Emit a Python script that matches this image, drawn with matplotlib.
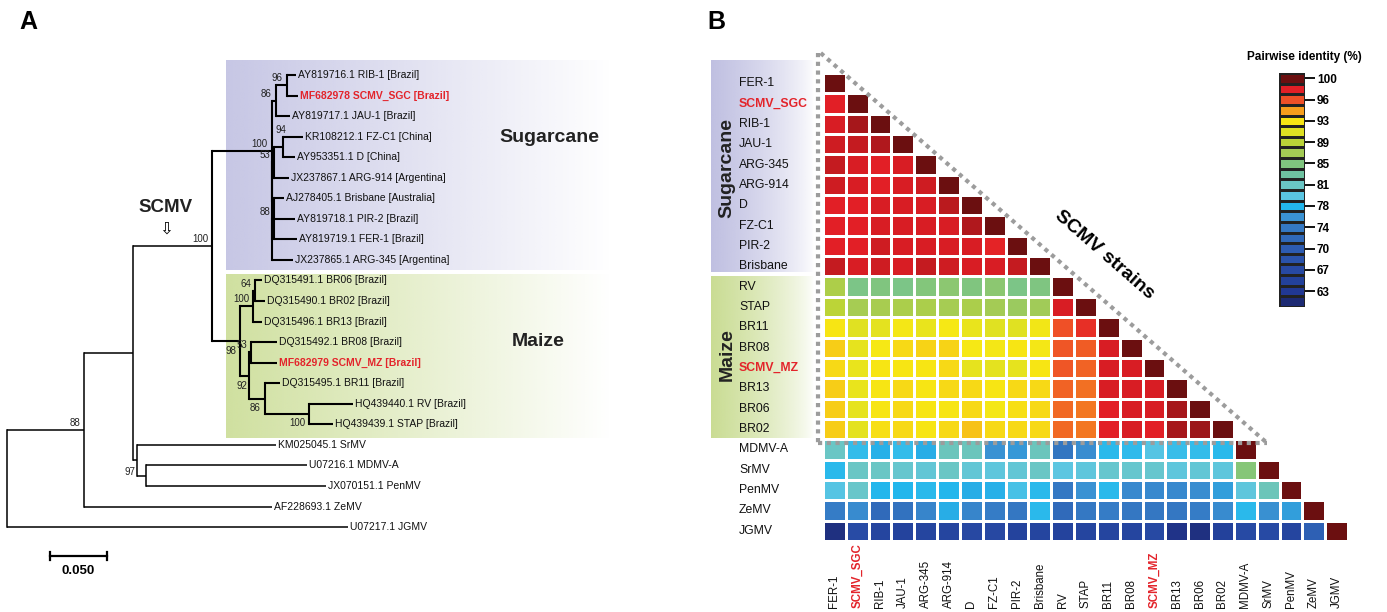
import numpy as np
import matplotlib
matplotlib.use("Agg")
from matplotlib import pyplot as plt
from matplotlib.colors import LinearSegmentedColormap, Normalize, to_rgb

plt.rcParams['font.family'] = ['Liberation Sans', 'DejaVu Sans']

# ---------------- panel A: ML tree (name, parent, branch length, bootstrap)
tree_nodes = [
    ("root", None, 0.0, None),
    ("N1", "root", 0.0675, 88),
    ("SCMV+", "N1", 0.043, None),
    ("SCMV", "SCMV+", 0.0693, 100),
    ("Sug", "SCMV", 0.0526, 100),
    ("S86", "Sug", 0.0035, 86),
    ("S96", "S86", 0.0096, 96),
    ("AY819716.1 RIB-1 [Brazil]", "S96", 0.0079, None),
    ("MF682978 SCMV_SGC [Brazil]", "S96", 0.0096, None),
    ("AY819717.1 JAU-1 [Brazil]", "S86", 0.0123, None),
    ("X1", "Sug", 0.0, None),
    ("S53", "X1", 0.0018, 53),
    ("S94", "S53", 0.0079, 94),
    ("KR108212.1 FZ-C1 [China]", "S94", 0.0175, None),
    ("AY953351.1 D [China]", "S94", 0.0105, None),
    ("JX237867.1 ARG-914 [Argentina]", "S53", 0.0132, None),
    ("X2", "X1", 0.0, None),
    ("S88", "X2", 0.0018, 88),
    ("AJ278405.1 Brisbane [Australia]", "S88", 0.0088, None),
    ("AY819718.1 PIR-2 [Brazil]", "S88", 0.0184, None),
    ("AY819719.1 FER-1 [Brazil]", "S88", 0.0202, None),
    ("JX237865.1 ARG-345 [Argentina]", "X2", 0.0184, None),
    ("Mz", "SCMV", 0.0246, 98),
    ("M100", "Mz", 0.0114, 100),
    ("M64", "M100", 0.0018, 64),
    ("DQ315491.1 BR06 [Brazil]", "M64", 0.0061, None),
    ("DQ315490.1 BR02 [Brazil]", "M64", 0.0088, None),
    ("DQ315496.1 BR13 [Brazil]", "M100", 0.0079, None),
    ("M92", "Mz", 0.0079, 92),
    ("M53", "M92", 0.0018, 53),
    ("DQ315492.1 BR08 [Brazil]", "M53", 0.0228, None),
    ("MF682979 SCMV_MZ [Brazil]", "M53", 0.0228, None),
    ("M86", "M92", 0.014, 86),
    ("DQ315495.1 BR11 [Brazil]", "M86", 0.0132, None),
    ("M100b", "M86", 0.0386, 100),
    ("HQ439440.1 RV [Brazil]", "M100b", 0.0386, None),
    ("HQ439439.1 STAP [Brazil]", "M100b", 0.0211, None),
    ("Oth", "SCMV+", 0.0035, None),
    ("KM025045.1 SrMV", "Oth", 0.122, None),
    ("O97", "Oth", 0.0079, 97),
    ("U07216.1 MDMV-A", "O97", 0.141, None),
    ("JX070151.1 PenMV", "O97", 0.158, None),
    ("AF228693.1 ZeMV", "N1", 0.165, None),
    ("U07217.1 JGMV", "root", 0.299, None),
]
tree_highlight = ["MF682978 SCMV_SGC [Brazil]", "MF682979 SCMV_MZ [Brazil]"]
scale_length = 0.05

# ---------------- panel B: pairwise identity (lower triangle, %)
strains = ["FER-1", "SCMV_SGC", "RIB-1", "JAU-1", "ARG-345", "ARG-914", "D",
           "FZ-C1", "PIR-2", "Brisbane", "RV", "STAP", "BR11", "BR08",
           "SCMV_MZ", "BR13", "BR06", "BR02", "MDMV-A", "SrMV", "PenMV",
           "ZeMV", "JGMV"]
strain_highlight = ["SCMV_SGC", "SCMV_MZ"]
identity_rows = [
    [100],
    [98.1, 100],
    [98.2, 99.0, 100],
    [98.4, 98.5, 98.9, 100],
    [98.5, 98.3, 98.1, 98.3, 100],
    [98.4, 98.3, 98.1, 98.3, 98.4, 100],
    [98.1, 98.1, 98.2, 98.3, 98.3, 98.7, 100],
    [98.1, 98.1, 98.3, 98.3, 98.2, 98.2, 98.8, 100],
    [98.1, 98.1, 98.4, 98.3, 98.2, 98.3, 98.2, 98.0, 100],
    [98.5, 98.2, 98.4, 98.3, 98.5, 98.4, 98.3, 98.2, 98.5, 100],
    [87.8, 84.8, 85.2, 84.8, 85.4, 85.8, 85.2, 85.8, 84.8, 85.0, 100],
    [89.0, 87.2, 87.4, 87.7, 87.7, 87.2, 87.7, 87.0, 86.6, 86.8, 98.2, 100],
    [92.6, 91.0, 91.2, 92.3, 91.6, 92.5, 91.6, 91.0, 91.0, 92.2, 96.3, 97.5, 100],
    [93.3, 91.5, 92.5, 93.0, 93.1, 93.1, 92.5, 92.4, 92.6, 92.4, 96.1, 96.0,
     98.2, 100],
    [93.0, 91.6, 92.6, 92.6, 92.6, 93.0, 91.5, 91.2, 91.5, 92.6, 96.2, 95.8,
     98.2, 98.2, 100],
    [93.3, 91.6, 92.6, 93.0, 92.6, 93.0, 93.0, 92.6, 93.0, 93.0, 95.8, 95.5,
     98.2, 98.2, 98.2, 100],
    [93.3, 91.5, 92.7, 93.0, 92.6, 92.6, 93.0, 92.3, 92.8, 93.0, 95.6, 95.3,
     98.1, 98.2, 98.2, 99.0, 100],
    [93.3, 91.3, 92.8, 93.0, 92.6, 93.0, 93.6, 93.0, 93.0, 93.0, 95.6, 95.3,
     98.1, 98.2, 98.1, 99.0, 99.2, 100],
    [81.5, 78.3, 77.5, 78.3, 77.3, 82.0, 82.0, 76.0, 76.3, 82.0, 73.8, 75.6,
     78.0, 78.2, 79.5, 78.5, 78.3, 78.0, 100],
    [78.0, 81.5, 81.5, 81.0, 80.5, 81.5, 80.5, 80.0, 80.5, 81.5, 79.8, 80.0,
     81.0, 81.0, 81.0, 80.0, 80.5, 80.0, 85.5, 100],
    [79.5, 81.2, 77.8, 77.8, 78.0, 77.8, 77.3, 77.5, 79.0, 78.0, 74.2, 76.0,
     78.0, 75.3, 75.3, 75.3, 75.6, 76.5, 80.0, 82.2, 100],
    [74.5, 75.5, 72.5, 73.3, 75.0, 77.3, 75.0, 74.5, 74.0, 78.0, 72.5, 74.2,
     74.5, 74.0, 74.0, 74.0, 74.5, 75.5, 78.0, 75.8, 76.5, 100],
    [62.0, 67.2, 66.0, 65.5, 66.0, 66.0, 66.5, 66.5, 65.5, 66.0, 65.5, 66.0,
     66.0, 66.0, 66.8, 62.5, 62.0, 65.0, 67.0, 67.0, 66.0, 71.0, 100],
]
cbar_ticks = [100, 96, 93, 89, 85, 81, 78, 74, 70, 67, 63]
cbar_colors = ["#6b0f10", "#e31f26", "#ef5127", "#f7a11c", "#f7e814",
               "#dce024", "#bad338", "#a4cb55", "#80c57f", "#6fc3a2",
               "#6ac6c6", "#5cc6e2", "#22b7ed", "#3a92d3", "#3478c3",
               "#3069b9", "#2d5db2", "#2a53ab", "#2749a3", "#23419b",
               "#213893", "#1d2a73"]
cbar_levels = np.linspace(100, 100 - 1.85 * 21, len(cbar_colors))

W, H = 1387, 612
RED = "#e3242b"
fig = plt.figure(figsize=(W / 100, H / 100), dpi=100)


def px_axes(x0, y0, x1, y1):
    ax = fig.add_axes([x0 / W, 1 - y1 / H, (x1 - x0) / W, (y1 - y0) / H])
    ax.set_axis_off()
    return ax


# background layer: shaded clade boxes and free text
bg = px_axes(0, 0, W, H)


def fade_box(x0, x1, y0, y1, color, a0, power=1.0):
    t = np.linspace(0, 1, 200)
    img = np.ones((2, 200, 4))
    img[..., :3] = to_rgb(color)
    img[..., 3] = a0 * (1 - t) ** power
    bg.imshow(img, extent=(x0, x1, y1, y0), aspect='auto',
              interpolation='bilinear')


fade_box(226, 612, 60, 270, "#b4b4dc", 0.75)
fade_box(226, 612, 274, 438, "#c0d680", 0.75)
fade_box(711, 814, 60, 272, "#b4b4dc", 0.85, 0.7)
fade_box(711, 814, 276, 438, "#c0d680", 0.85, 0.7)
bg.set_xlim(0, W)
bg.set_ylim(H, 0)

bg.text(28, 22, "A", fontsize=18, fontweight='bold', ha='center', va='center')
bg.text(716, 22, "B", fontsize=18, fontweight='bold', ha='center', va='center')
bg.text(549, 137, "Sugarcane", fontsize=14, fontweight='bold', ha='center', va='center', color='#222')
bg.text(538, 342, "Maize", fontsize=14, fontweight='bold', ha='center', va='center', color='#222')
bg.text(166, 207, "SCMV", fontsize=13.5, fontweight='bold', ha='center', va='center', color='#222')
bg.text(166, 229, "\u21e9", fontsize=12, ha='center', va='center', family='DejaVu Sans')
bg.text(727, 168, "Sugarcane", fontsize=14, fontweight='bold', rotation=90, ha='center', va='center', color='#222')
bg.text(727, 355, "Maize", fontsize=14, fontweight='bold', rotation=90, ha='center', va='center', color='#222')
bg.text(1304, 57, "Pairwise identity (%)", fontsize=8.5, fontweight='bold', ha='center', va='center')

# ---------------- tree
PX = 1140.0   # pixels per substitution unit
DY = 20.55    # pixels per leaf
tree = px_axes(0, 0, 640, H)

children, blen, support = {}, {}, {}
for name, par, bl, sup in tree_nodes:
    children.setdefault(name, [])
    blen[name] = bl
    support[name] = sup
    if par is not None:
        children.setdefault(par, []).append(name)

xpos, ypos = {}, {}
leaf_count = [0]


def layout(node, x):
    xpos[node] = x
    kids = children[node]
    if not kids:
        ypos[node] = leaf_count[0]
        leaf_count[0] += 1
        return
    for k in kids:
        layout(k, x + blen[k])
    ypos[node] = (ypos[kids[0]] + ypos[kids[-1]]) / 2


layout("root", 0.0)

thick = set()


def mark(node):
    thick.add(node)
    for k in children[node]:
        mark(k)


mark("SCMV")

nudge = {"Mz": (0, 17), "M92": (2, 17), "M86": (0, 16), "M100b": (0, 16),
         "O97": (-7, 3), "S94": (7, -10)}

for node, kids in children.items():
    if not kids:
        continue
    lw = 1.5 if node in thick else 1.1
    tree.plot([xpos[node]] * 2, [ypos[kids[0]], ypos[kids[-1]]], color='black',
              lw=lw, solid_capstyle='projecting')
    for k in kids:
        tree.plot([xpos[node], xpos[k]], [ypos[k]] * 2, color='black', lw=lw,
                  solid_capstyle='butt')
    if support[node] is not None:
        dx, dy = nudge.get(node, (0, 0))
        tree.text(xpos[node] + (dx - 4) / PX, ypos[node] + (dy - 7) / DY,
                  str(support[node]), ha='right', va='center', fontsize=7,
                  color='#222')
    for k in kids:
        if not children[k]:
            hl = k in tree_highlight
            tree.text(xpos[k] + 2 / PX, ypos[k], k, va='center', fontsize=7.5,
                      color=RED if hl else '#111',
                      fontweight='bold' if hl else 'normal')

# scale bar
sx0 = 43 / PX
sy = (556 - 75) / DY
tree.plot([sx0, sx0 + scale_length], [sy, sy], color='black', lw=1.6)
for xe in (sx0, sx0 + scale_length):
    tree.plot([xe, xe], [sy - 0.2, sy + 0.2], color='black', lw=1.6)
tree.text(sx0 + scale_length / 2, sy + 0.75, "%.3f" % scale_length,
          ha='center', va='center', fontsize=9.5, fontweight='bold')

tree.set_xlim(-7 / PX, 633 / PX)
tree.set_ylim((H - 75) / DY, -75 / DY)

# ---------------- heatmap
n = len(strains)
mat = np.full((n, n), np.nan)
for i, row in enumerate(identity_rows):
    mat[i, :len(row)] = row

cmap = LinearSegmentedColormap.from_list("pid", cbar_colors[::-1])
cmap.set_bad((1, 1, 1, 0))
norm = Normalize(vmin=cbar_levels[-1], vmax=cbar_levels[0])

hm = px_axes(823, 73, 1348, 541)
hm.pcolormesh(np.arange(n + 1), np.arange(n + 1), np.ma.masked_invalid(mat),
              cmap=cmap, norm=norm, edgecolors='white', linewidth=0.8)
hm.set_xlim(0, n)
hm.set_ylim(n, 0)

for i, s in enumerate(strains):
    hl = s in strain_highlight
    hm.text(-3.68, i + 0.5, s, ha='left', va='center', fontsize=8.8,
            color=RED if hl else '#111', fontweight='bold' if hl else 'normal')
    hm.text(i + 0.5, 26.3, s, rotation=90, ha='center', va='bottom',
            fontsize=8.3, color=RED if hl else '#111',
            fontweight='bold' if hl else 'normal')

dot = dict(color='#9c9c9c', lw=3.0, linestyle=(0, (1, 1.1)), clip_on=False,
           zorder=5, dash_capstyle='butt')
hm.plot([-0.2, -0.2], [-0.98, 18.18], **dot)
hm.plot([-0.2, 19.45], [18.18, 18.18], **dot)
hm.plot([-0.1, 19.45], [-0.98, 18.18], **dot)
hm.text(12.35, 8.94, "SCMV strains", rotation=-41, rotation_mode='anchor',
        ha='center', va='center', fontsize=14, fontweight='bold')

# ---------------- colour key
cb = fig.add_axes([1279 / W, 1 - 307 / H, 26 / W, 234 / H])
cb.pcolormesh([0, 1], np.arange(len(cbar_levels) + 1),
              cbar_levels.reshape(-1, 1), cmap=cmap, norm=norm,
              edgecolors='#222222', linewidth=0.8)
cb.set_xlim(0, 1)
cb.set_ylim(len(cbar_levels), 0)
cb.set_xticks([])
cb.yaxis.tick_right()
cb.set_yticks(np.arange(0, 2 * len(cbar_ticks), 2) + 0.5)
cb.set_yticklabels([str(t) for t in cbar_ticks], fontsize=8.5,
                   fontweight='bold')
cb.tick_params(axis='y', length=7, width=1.3, pad=1.5)
for sp in cb.spines.values():
    sp.set_visible(False)

fig.savefig("out.png", dpi=100)
